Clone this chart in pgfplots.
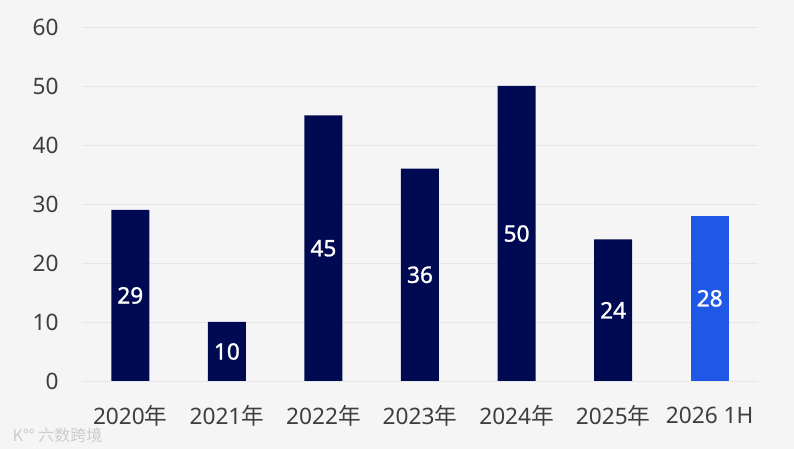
\documentclass[border=0pt]{standalone}
\usepackage{pgfplots}
\pgfplotsset{compat=1.18}
\usepackage{fontspec}
\setmainfont{Noto Sans}
\newfontfamily\semib[FakeBold=1.2]{Noto Sans}
\newfontfamily\cjk{Noto Sans CJK SC}
\definecolor{bg}{HTML}{F5F5F5}
\definecolor{navy}{HTML}{000A52}
\definecolor{bblue}{HTML}{1F58E6}
\definecolor{txt}{HTML}{3E3E3E}
\definecolor{gridc}{HTML}{E6E6E6}
\begin{document}
\begin{tikzpicture}
\fill[bg] (0,0) rectangle (595.5pt,336.75pt);
\begin{axis}[
  at={(61.5pt,51pt)}, anchor=south west,
  scale only axis, width=507pt, height=265.5pt,
  xmin=-0.5, xmax=6.5, ymin=0, ymax=60,
  ytick={0,10,...,60},
  xtick={0,...,6},
  xticklabels={2020{\cjk 年},2021{\cjk 年},2022{\cjk 年},2023{\cjk 年},2024{\cjk 年},2025{\cjk 年},2026 1H},
  axis line style={draw=none},
  major tick length=0pt,
  xmajorgrids=false,
  ymajorgrids=true,
  major grid style={draw=gridc, line width=0.6pt},
  /pgf/number format/assume math mode=true,
  tick label style={font=\fontsize{17pt}{20pt}\selectfont, text=txt},
  yticklabel style={anchor=east, xshift=-14pt},
  xticklabel style={anchor=center, yshift=-26pt},
  ybar, bar width=28.5pt, bar shift=0pt,
  visualization depends on={y \as \rawy},
  nodes near coords,
  every node near coord/.append style={anchor=center, text=white,
     font=\semib\fontsize{17pt}{20pt}\selectfont,
     shift={(axis direction cs:0,-\rawy/2)}},
  clip=false,
]
\addplot[fill=navy, draw=none] coordinates {(0,29) (1,10) (2,45) (3,36) (4,50) (5,24)};
\addplot[fill=bblue, draw=none] coordinates {(6,28)};
\end{axis}
\node[anchor=west, text=gray!40, font=\cjk\fontsize{12pt}{13pt}\selectfont] at (6pt,10pt) {K°° 六数跨境};
\end{tikzpicture}
\end{document}
